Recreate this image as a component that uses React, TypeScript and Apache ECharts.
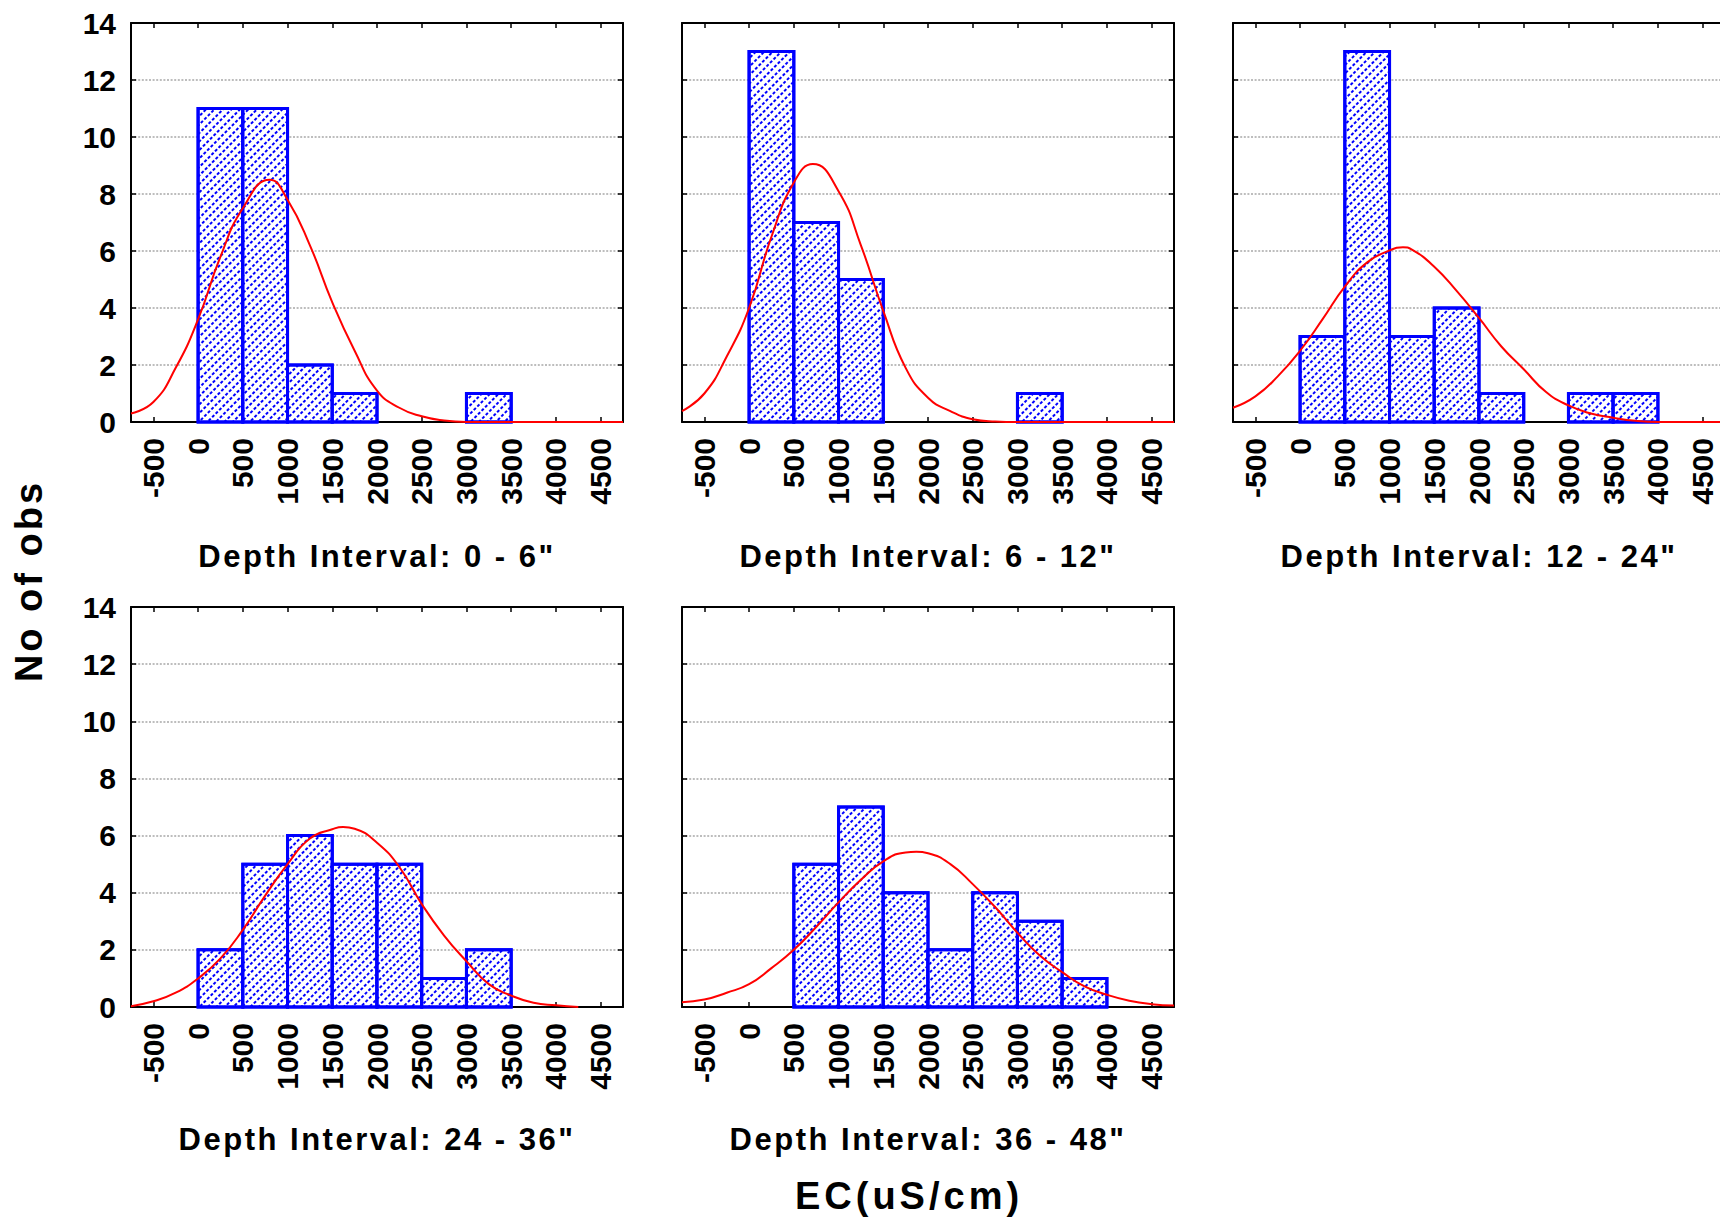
import React, { useEffect, useRef } from "react";
import * as echarts from "echarts";

// ---- data ----
const binStarts = [0, 500, 1000, 1500, 2000, 2500, 3000, 3500];
const binWidth = 500;

const counts0to6 = [11, 11, 2, 1, 0, 0, 1, 0];
const counts6to12 = [13, 7, 5, 0, 0, 0, 1, 0];
const counts12to24 = [3, 13, 3, 4, 1, 0, 1, 1];
const counts24to36 = [2, 5, 6, 5, 5, 1, 2, 0];
const counts36to48 = [0, 5, 7, 4, 2, 4, 3, 1];

// fitted normal curves, every 250 uS/cm
const curveX = [
  -750, -500, -250, 0, 250, 500, 750, 1000, 1250, 1500, 1750, 2000, 2250, 2500,
  2750, 3000, 3250, 3500, 3750, 4000, 4250, 4500, 4750,
];
const curve0to6 = [0.3, 0.7, 1.9, 3.6, 5.8, 7.5, 8.45, 7.8, 6.2, 4.2, 2.5, 1.1, 0.5, 0.2, 0.05, 0, 0, 0, 0, 0, 0, 0, 0];
const curve6to12 = [0.38, 1.0, 2.3, 4.0, 6.5, 8.4, 9.0, 8.1, 6.2, 3.9, 1.9, 0.85, 0.38, 0.1, 0.02, 0, 0, 0, 0, 0, 0, 0, 0];
const curve12to24 = [0.5, 0.9, 1.6, 2.5, 3.6, 4.75, 5.6, 6.02, 6.05, 5.45, 4.6, 3.65, 2.65, 1.85, 1.05, 0.58, 0.3, 0.15, 0.04, 0, 0, 0, 0];
const curve24to36 = [0.03, 0.2, 0.5, 1.0, 1.7, 2.7, 3.9, 5.0, 5.9, 6.22, 6.24, 5.75, 4.9, 3.6, 2.5, 1.6, 0.8, 0.4, 0.15, 0.06, 0, null, null];
const curve36to48 = [0.17, 0.26, 0.5, 0.8, 1.36, 2.0, 2.8, 3.66, 4.45, 5.1, 5.41, 5.38, 5.0, 4.3, 3.5, 2.6, 1.8, 1.22, 0.72, 0.43, 0.22, 0.1, 0.05];
// curve peaks (x, height)
const peakX = [800, 713, 1150, 1620, 1870];
const peakY = [8.5, 9.05, 6.13, 6.3, 5.43];

const panelTitles = [
  'Depth Interval: 0 - 6"',
  'Depth Interval: 6 - 12"',
  'Depth Interval: 12 - 24"',
  'Depth Interval: 24 - 36"',
  'Depth Interval: 36 - 48"',
];
const panelCounts = [counts0to6, counts6to12, counts12to24, counts24to36, counts36to48];
const panelCurves = [curve0to6, curve6to12, curve12to24, curve24to36, curve36to48];

const xMin = -750;
const xMax = 4750;
const yMin = 0;
const yMax = 14;
const yStep = 2;

const yAxisTitle = "No of obs";
const xAxisTitle = "EC(uS/cm)";

// ---- layout ----
const boxes = [
  { left: 131, top: 23, width: 492, height: 399, titleY: 556, yLabels: true },
  { left: 682, top: 23, width: 492, height: 399, titleY: 556, yLabels: false },
  { left: 1233, top: 23, width: 492, height: 399, titleY: 556, yLabels: false },
  { left: 131, top: 607, width: 492, height: 400, titleY: 1139, yLabels: true },
  { left: 682, top: 607, width: 492, height: 400, titleY: 1139, yLabels: false },
];

const FONT = "'Liberation Sans', Arial, Helvetica, sans-serif";
const BLUE = "#0000ff";

export default function App() {
  const ref = useRef<HTMLDivElement>(null);

  useEffect(() => {
    if (!ref.current) return;
    const chart = echarts.init(ref.current, null, { renderer: "svg" });

    const grid: any[] = [];
    const xAxis: any[] = [];
    const yAxis: any[] = [];
    const series: any[] = [];
    const graphic: any[] = [];

    const axisLine = { show: true, onZero: false, lineStyle: { color: "#000", width: 2 } };
    const tick = { show: true, inside: true, length: 5, lineStyle: { color: "#000", width: 1.5 } };

    boxes.forEach((b, i) => {
      grid.push({ left: b.left, top: b.top, width: b.width, height: b.height, containLabel: false, outerBoundsMode: "none" });
      xAxis.push({
        type: "value", gridIndex: i, position: "bottom", min: xMin, max: xMax, splitNumber: 11,
        axisLine, axisTick: tick, splitLine: { show: false },
        axisLabel: {
          show: true, rotate: 90, margin: 16, color: "#000", fontSize: 30, fontWeight: "bold", fontFamily: FONT,
          formatter: (v: number) => (v % 500 === 0 ? String(v) : ""),
        },
      });
      xAxis.push({
        type: "value", gridIndex: i, position: "top", min: xMin, max: xMax, splitNumber: 11,
        axisLine, axisTick: tick, splitLine: { show: false }, axisLabel: { show: false },
      });
      yAxis.push({
        type: "value", gridIndex: i, position: "left", min: yMin, max: yMax, interval: yStep,
        axisLine, axisTick: tick,
        splitLine: { show: true, showMinLine: false, showMaxLine: false, lineStyle: { color: "#a8a8a8", width: 1.6, type: [2, 1.6] } },
        axisLabel: { show: b.yLabels, margin: 15, color: "#000", fontSize: 30, fontWeight: "bold", fontFamily: FONT },
      });
      yAxis.push({
        type: "value", gridIndex: i, position: "right", min: yMin, max: yMax, interval: yStep,
        axisLine, axisTick: tick, splitLine: { show: false }, axisLabel: { show: false },
      });

      const counts = panelCounts[i];
      series.push({
        type: "custom", xAxisIndex: i * 2, yAxisIndex: i * 2, z: 3, encode: { x: [0, 1], y: 2 },
        data: binStarts.map((s, j) => [s, s + binWidth, counts[j]]),
        renderItem: (params: any, api: any) => {
          const x0 = api.value(0);
          const x1 = api.value(1);
          const y = api.value(2);
          if (!y) return null;
          const p0 = api.coord([x0, y]);
          const p1 = api.coord([x1, 0]);
          return {
            type: "rect",
            shape: { x: p0[0], y: p0[1], width: p1[0] - p0[0], height: p1[1] - p0[1] },
            style: {
              fill: "#ffffff", stroke: BLUE, lineWidth: 3,
              decal: {
                symbol: "rect", symbolSize: 1, color: BLUE, backgroundColor: null,
                dashArrayX: [2.5, 1.5], dashArrayY: [2, 3.5], rotation: -Math.PI / 4,
              },
            },
          };
        },
      });

      const curve = panelCurves[i];
      const pts: any[] = curveX.map((x, j) => [x, curve[j]]).filter((p) => Math.abs((p[0] as number) - peakX[i]) >= 60);
      pts.push([peakX[i], peakY[i]]);
      pts.sort((a, b2) => a[0] - b2[0]);
      series.push({
        type: "line", xAxisIndex: i * 2, yAxisIndex: i * 2, z: 5, symbol: "none", showSymbol: false,
        smooth: 0.5, clip: true, lineStyle: { color: "#ff0000", width: 2 }, data: pts,
      });

      graphic.push({
        type: "text", x: b.left + b.width / 2, y: b.titleY,
        style: { text: panelTitles[i], fill: "#000", fontSize: 31, fontWeight: "bold", fontFamily: FONT, textAlign: "center", textVerticalAlign: "middle" },
      });
    });

    graphic.push({
      type: "text", x: 29, y: 581, rotation: Math.PI / 2,
      style: { text: yAxisTitle, fill: "#000", fontSize: 38, fontWeight: "bold", fontFamily: FONT, textAlign: "center", textVerticalAlign: "middle" },
    });
    graphic.push({
      type: "text", x: 909, y: 1196,
      style: { text: xAxisTitle, fill: "#000", fontSize: 38, fontWeight: "bold", fontFamily: FONT, textAlign: "center", textVerticalAlign: "middle" },
    });

    chart.setOption({ animation: false, backgroundColor: "#ffffff", grid, xAxis, yAxis, series, graphic });

    const spaceOut = () => {
      const root = ref.current;
      if (!root) return;
      root.querySelectorAll("text").forEach((t) => {
        const s = t.textContent || "";
        if (s.startsWith("Depth Interval")) t.style.letterSpacing = "2.5px";
        else if (s === yAxisTitle) t.style.letterSpacing = "3px";
        else if (s === xAxisTitle) t.style.letterSpacing = "4px";
      });
    };
    spaceOut();
    chart.on("finished", spaceOut);

    return () => {
      chart.dispose();
    };
  }, []);

  return <div ref={ref} style={{ position: "absolute", left: 0, top: 0, width: 1720, height: 1220, background: "#fff" }} />;
}
